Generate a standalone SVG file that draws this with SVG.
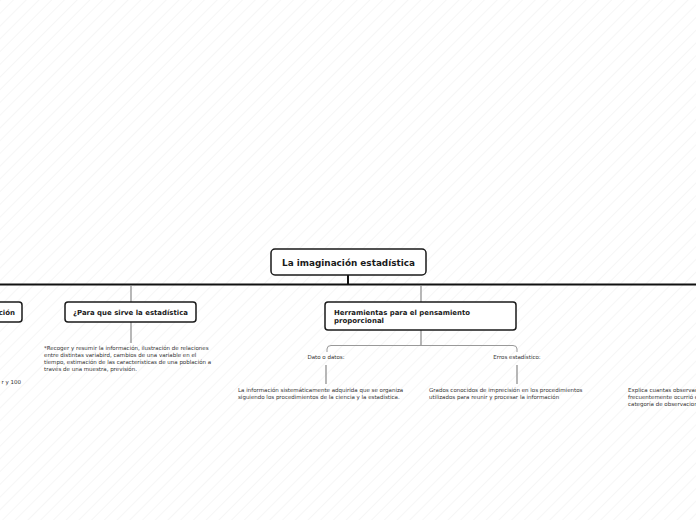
<svg xmlns="http://www.w3.org/2000/svg" width="696" height="520" viewBox="0 0 696 520">
<defs>
<pattern id="hatch" width="9" height="9" patternUnits="userSpaceOnUse" patternTransform="rotate(-45)">
<rect width="9" height="9" fill="#ffffff"/>
<line x1="0" y1="0" x2="9" y2="0" stroke="#f3f3f3" stroke-width="1.5"/>
</pattern>
</defs>
<style>
.box{fill:#ffffff;stroke:#1a1a1a;stroke-width:1.5}
.title{font-family:"DejaVu Sans",Verdana,sans-serif;font-weight:bold;fill:#1a1a1a}
.small{font-family:"DejaVu Sans",Verdana,sans-serif;font-size:5.5px;fill:#333333}
.main{stroke:#111111;stroke-width:2;fill:none}
.sub{stroke:#888888;stroke-width:1.2;fill:none}
.thin{stroke:#999999;stroke-width:1;fill:none}
</style>
<rect width="696" height="520" fill="url(#hatch)"/>
<g id="connectors">
<line class="main" x1="0" y1="284.5" x2="696" y2="284.5"/>
<line class="main" x1="348" y1="275" x2="348" y2="284.5"/>
<line class="sub" x1="131" y1="285" x2="131" y2="302"/>
<line class="sub" x1="421" y1="285" x2="421" y2="302"/>
<line class="sub" x1="131" y1="322" x2="131" y2="343"/>
<line class="sub" x1="421" y1="330" x2="421" y2="345"/>
<path class="thin" d="M327 352 V349 Q327 345.5 331 345.5 H513 Q517 345.5 517 349 V352"/>
<line class="sub" x1="326" y1="365" x2="326" y2="384"/>
<line class="sub" x1="517" y1="365" x2="517" y2="384"/>
</g>
<g id="root">
<rect class="box" x="271" y="249" width="155" height="26" rx="4"/>
<text class="title" x="348.5" y="265.5" font-size="8.5" text-anchor="middle" textLength="133" lengthAdjust="spacingAndGlyphs">La imaginación estadística</text>
</g>
<g id="node-left">
<rect class="box" x="-20" y="302" width="42" height="20" rx="3"/>
<text class="title" x="15" y="315" font-size="7" text-anchor="end">ción</text>
</g>
<g id="node-para">
<rect class="box" x="65" y="302" width="131" height="20" rx="3"/>
<text class="title" x="73" y="315" font-size="7" textLength="115" lengthAdjust="spacingAndGlyphs">¿Para que sirve la estadística</text>
</g>
<g id="node-herramientas">
<rect class="box" x="325" y="302" width="191" height="28" rx="3"/>
<text class="title" x="334" y="315" font-size="7" textLength="136" lengthAdjust="spacingAndGlyphs">Herramientas para el pensamiento</text>
<text class="title" x="334" y="323" font-size="7">proporcional</text>
</g>
<g id="text-para">
<text class="small" x="44" y="350">*Recoger y resumir la información, ilustración de relaciones</text>
<text class="small" x="44" y="357">entre distintas variabird, cambios de una variable en el</text>
<text class="small" x="44" y="364">tiempo, estimación de las características de una población a</text>
<text class="small" x="44" y="371">través de una muestra, previsión.</text>
</g>
<g id="text-left">
<text class="small" x="21" y="384" text-anchor="end">r y 100</text>
</g>
<g id="label-dato">
<text class="small" x="326" y="359" text-anchor="middle">Dato o datos:</text>
</g>
<g id="label-erros">
<text class="small" x="517" y="359" text-anchor="middle">Erros estadístico:</text>
</g>
<g id="text-dato">
<text class="small" x="238" y="392">La información sistemáticamente adquirida que se organiza</text>
<text class="small" x="238" y="399">siguiendo los procedimientos de la ciencia y la estadística.</text>
</g>
<g id="text-erros">
<text class="small" x="429" y="392">Grados conocidos de imprecisión en los procedimientos</text>
<text class="small" x="429" y="399">utilizados para reunir y procesar la información</text>
</g>
<g id="text-right">
<text class="small" x="628" y="392">Explica cuantas observac</text>
<text class="small" x="628" y="399">frecuentemente ocurrió e</text>
<text class="small" x="628" y="406">categoría de observacion</text>
</g>
</svg>
